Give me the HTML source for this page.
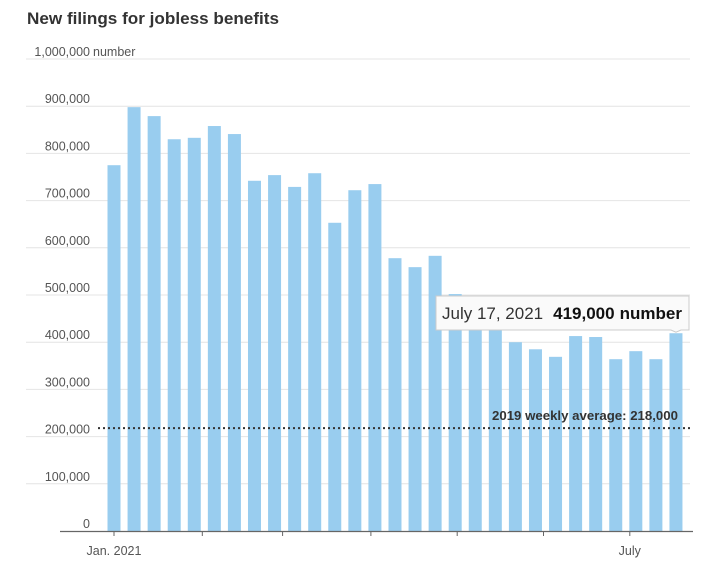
<!DOCTYPE html>
<html><head><meta charset="utf-8"><style>
body{margin:0;background:#fff;width:710px;height:569px;overflow:hidden;font-family:"Liberation Sans",sans-serif}
svg text{font-family:"Liberation Sans",sans-serif}
</style></head><body>
<svg id="chart" width="710" height="569" viewBox="0 0 710 569" xmlns="http://www.w3.org/2000/svg">
<text x="27" y="24" font-size="16.5" font-weight="bold" fill="#333" textLength="252" lengthAdjust="spacingAndGlyphs">New filings for jobless benefits</text>
<g id="grid"></g><g id="bars"></g><g id="axis"></g><g id="overlay"></g>
</svg>
<script>
const values=[775000,898000,879000,830000,833000,858000,841000,742000,754000,729000,758000,653000,722000,735000,578000,559000,583000,502000,440000,437000,400000,385000,369000,413000,411000,364000,381000,364000,419000];
const yTicks=[0,100000,200000,300000,400000,500000,600000,700000,800000,900000,1000000];
const yTickLabels=["0","100,000","200,000","300,000","400,000","500,000","600,000","700,000","800,000","900,000","1,000,000"];
const monthTickWeeks=[0,4.4,8.4,12.8,17.1,21.4,25.7];
const xLabels=[{w:0,t:"Jan. 2021"},{w:25.7,t:"July"}];
const avgValue=218000;
const NS="http://www.w3.org/2000/svg";
const y=v=>531-v*(472/1000000);
const x=i=>114+i*20.07;
function mk(tag,attrs,parent,text){const e=document.createElementNS(NS,tag);for(const k in attrs)e.setAttribute(k,attrs[k]);if(text!==undefined)e.textContent=text;document.getElementById(parent).appendChild(e);return e;}
yTicks.forEach((v,i)=>{
  if(v>0){const g=mk('line',{x1:26,x2:690,y1:y(v),y2:y(v),stroke:'#e4e4e4','stroke-width':1},'grid');
  
  }
  const t=mk('text',{x:90,y:y(v)-3,'text-anchor':'end','font-size':12.5,fill:'#555'},'grid',yTickLabels[i]);
  
  
});
const u=mk('text',{x:93,y:y(1000000)-3,'font-size':12.5,fill:'#555'},'grid','number');


values.forEach((v,i)=>{
  const b=mk('rect',{x:x(i)-6.5,y:y(v),width:13,height:531-y(v),fill:'#99cdef'},'bars');
  
  
});
const ax=mk('line',{x1:60,x2:693,y1:531.5,y2:531.5,stroke:'#666','stroke-width':1.2},'axis');


monthTickWeeks.forEach(w=>{
  const t=mk('line',{x1:x(w),x2:x(w),y1:532,y2:536,stroke:'#666','stroke-width':1},'axis');
  
  
});
xLabels.forEach(l=>{
  const t=mk('text',{x:x(l.w),y:555,'text-anchor':'middle','font-size':12.5,fill:'#555'},'axis',l.t);
  
  
});
const al=mk('line',{x1:98,x2:690,y1:y(avgValue),y2:y(avgValue),stroke:'#333','stroke-width':2,'stroke-dasharray':'2,3'},'overlay');


const at=mk('text',{x:678,y:y(avgValue)-8,'text-anchor':'end','font-size':12.5,'font-weight':'bold',fill:'#333',textLength:186,lengthAdjust:'spacingAndGlyphs'},'overlay','2019 weekly average: 218,000');


const last=values.length-1;
const tb=mk('path',{d:`M436,296 H689 V330 H${x(last)+5} L${x(last)} ${y(values[last])-1} L${x(last)-5},330 H436 Z`,fill:'#fafafa',stroke:'#ccc','stroke-width':1},'overlay');


const tt=mk('text',{x:442,y:319,'font-size':17,fill:'#333'},'overlay');


const s1=document.createElementNS(NS,'tspan');s1.textContent='July 17, 2021';tt.appendChild(s1);
const s2=document.createElementNS(NS,'tspan');s2.setAttribute('dx','10');s2.setAttribute('font-weight','bold');s2.setAttribute('fill','#111');s2.textContent=(values[last]).toLocaleString('en-US');tt.appendChild(s2);
const s3=document.createElementNS(NS,'tspan');s3.setAttribute('dx','5');s3.setAttribute('fill','#111');s3.setAttribute('font-weight','bold');s3.textContent='number';tt.appendChild(s3);
</script>
</body></html>
